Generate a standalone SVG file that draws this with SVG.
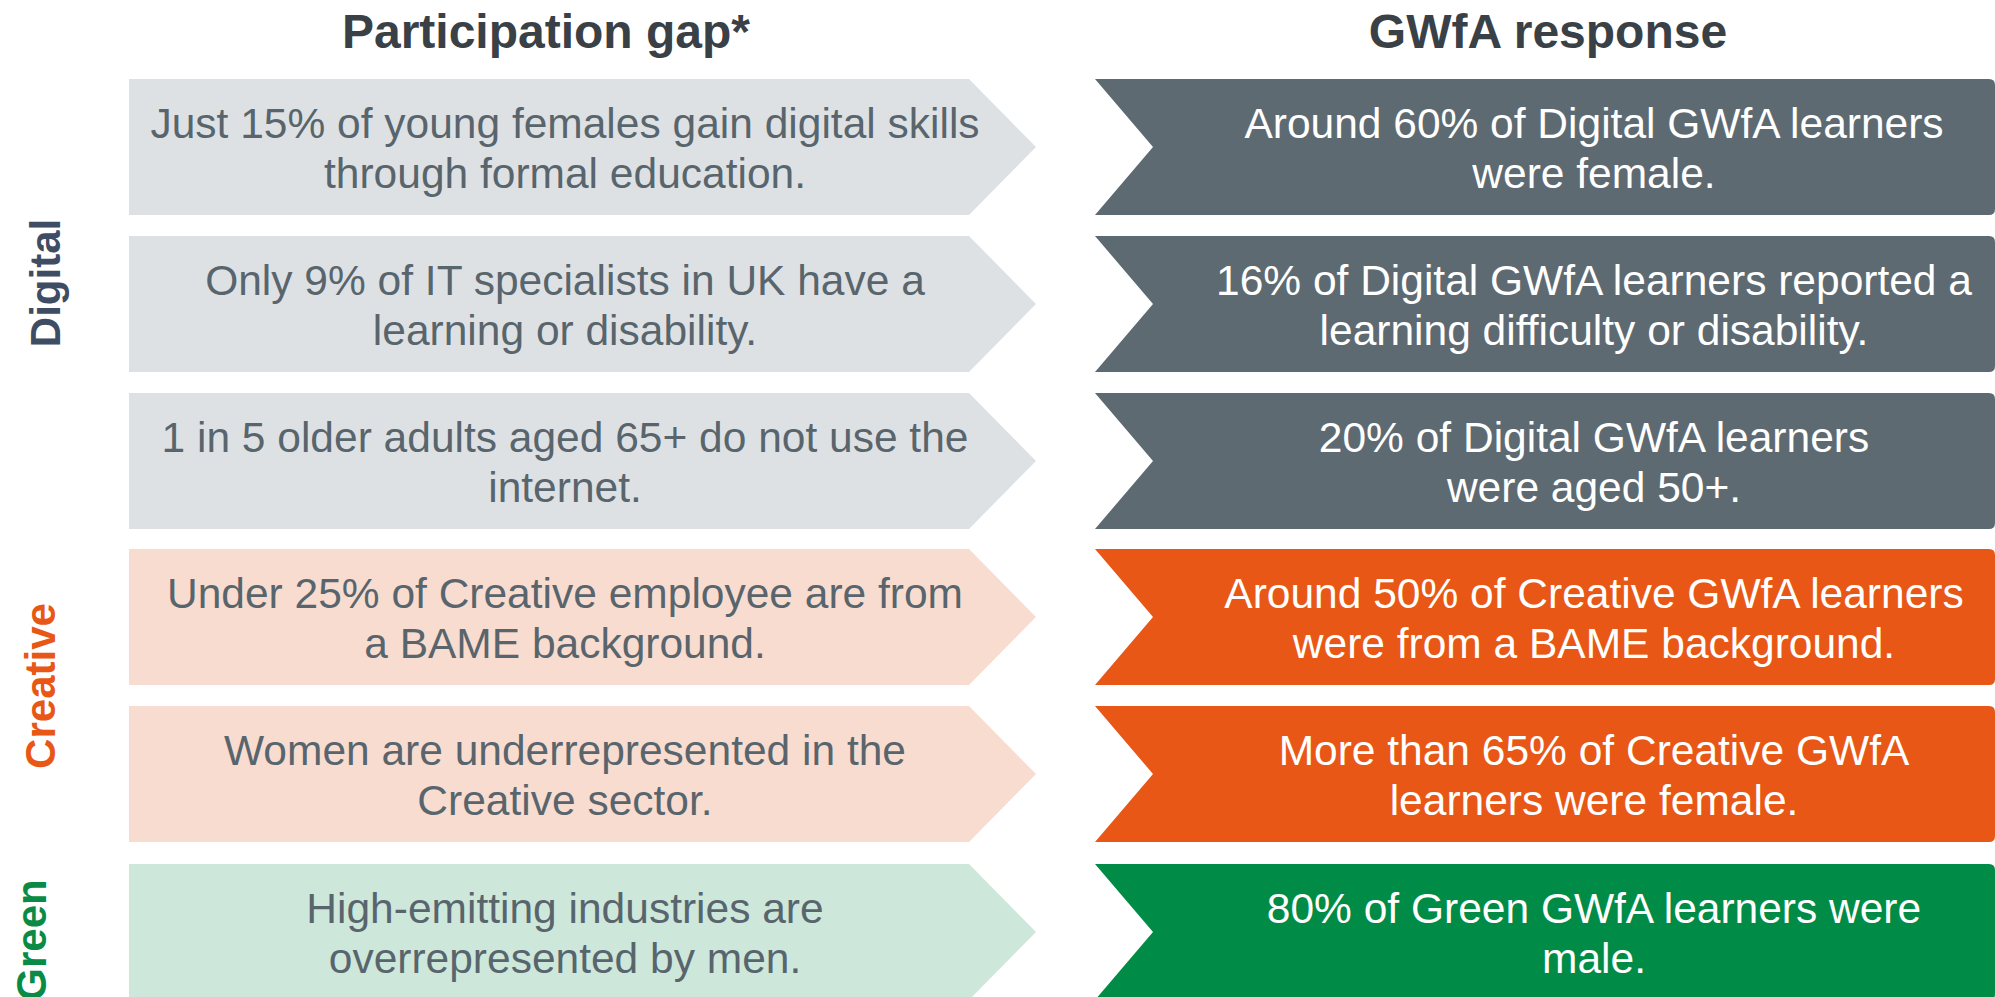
<svg xmlns="http://www.w3.org/2000/svg" width="1995" height="997" viewBox="0 0 1995 997">
<style>
.title{font-family:"Liberation Sans",Arial,sans-serif;font-weight:bold;font-size:48px;fill:#394147;text-anchor:middle}
.lt{font-family:"Liberation Sans",Arial,sans-serif;font-size:42.5px;fill:#59656d;text-anchor:middle}
.rt{font-family:"Liberation Sans",Arial,sans-serif;font-size:42.5px;fill:#ffffff;text-anchor:middle}
.cat{font-family:"Liberation Sans",Arial,sans-serif;font-weight:bold;font-size:42px;text-anchor:middle}
.gd{fill:#dee1e4}.gc{fill:#f9dcd0}.gg{fill:#cde8db}
.rd{fill:#5e6a72}.rc{fill:#e85716}.rg{fill:#008c46}
</style>
<rect width="1995" height="997" fill="#ffffff"/>
<g id="headers">
<text class="title" x="546" y="48">Participation gap*</text>
<text class="title" x="1548" y="48">GWfA response</text>
</g>
<g id="categories">
<text id="cat-digital" class="cat" fill="#3f4d64" transform="translate(60,283) rotate(-90)">Digital</text>
<text id="cat-creative" class="cat" fill="#e85716" transform="translate(55,686) rotate(-90)">Creative</text>
<text id="cat-green" class="cat" fill="#0a8b45" transform="translate(46,940) rotate(-90)">Green</text>
</g>
<g id="connectors"></g>
<!-- Row 1 -->
<g id="gap1">
<polygon class="gd" points="129,79 969,79 1036,147 969,215 129,215"/>
<text class="lt" x="565" y="138">Just 15% of young females gain digital skills</text>
<text class="lt" x="565" y="188">through formal education.</text>
</g>
<g id="resp1">
<path class="rd" d="M1095,79 H1989 Q1995,79 1995,85 V209 Q1995,215 1989,215 H1095 L1153,147 Z"/>
<text class="rt" x="1594" y="138">Around 60% of Digital GWfA learners</text>
<text class="rt" x="1594" y="188">were female.</text>
</g>
<!-- Row 2 -->
<g id="gap2">
<polygon class="gd" points="129,236 969,236 1036,304 969,372 129,372"/>
<text class="lt" x="565" y="295">Only 9% of IT specialists in UK have a</text>
<text class="lt" x="565" y="345">learning or disability.</text>
</g>
<g id="resp2">
<path class="rd" d="M1095,236 H1989 Q1995,236 1995,242 V366 Q1995,372 1989,372 H1095 L1153,304 Z"/>
<text class="rt" x="1594" y="295">16% of Digital GWfA learners reported a</text>
<text class="rt" x="1594" y="345">learning difficulty or disability.</text>
</g>
<!-- Row 3 -->
<g id="gap3">
<polygon class="gd" points="129,393 969,393 1036,461 969,529 129,529"/>
<text class="lt" x="565" y="452">1 in 5 older adults aged 65+ do not use the</text>
<text class="lt" x="565" y="502">internet.</text>
</g>
<g id="resp3">
<path class="rd" d="M1095,393 H1989 Q1995,393 1995,399 V523 Q1995,529 1989,529 H1095 L1153,461 Z"/>
<text class="rt" x="1594" y="452">20% of Digital GWfA learners</text>
<text class="rt" x="1594" y="502">were aged 50+.</text>
</g>
<!-- Row 4 -->
<g id="gap4">
<polygon class="gc" points="129,549 969,549 1036,617 969,685 129,685"/>
<text class="lt" x="565" y="608">Under 25% of Creative employee are from</text>
<text class="lt" x="565" y="658">a BAME background.</text>
</g>
<g id="resp4">
<path class="rc" d="M1095,549 H1989 Q1995,549 1995,555 V679 Q1995,685 1989,685 H1095 L1153,617 Z"/>
<text class="rt" x="1594" y="608">Around 50% of Creative GWfA learners</text>
<text class="rt" x="1594" y="658">were from a BAME background.</text>
</g>
<!-- Row 5 -->
<g id="gap5">
<polygon class="gc" points="129,706 969,706 1036,774 969,842 129,842"/>
<text class="lt" x="565" y="765">Women are underrepresented in the</text>
<text class="lt" x="565" y="815">Creative sector.</text>
</g>
<g id="resp5">
<path class="rc" d="M1095,706 H1989 Q1995,706 1995,712 V836 Q1995,842 1989,842 H1095 L1153,774 Z"/>
<text class="rt" x="1594" y="765">More than 65% of Creative GWfA</text>
<text class="rt" x="1594" y="815">learners were female.</text>
</g>
<!-- Row 6 -->
<g id="gap6">
<polygon class="gg" points="129,864 969,864 1036,932 969,1000 129,1000"/>
<text class="lt" x="565" y="923">High-emitting industries are</text>
<text class="lt" x="565" y="973">overrepresented by men.</text>
</g>
<g id="resp6">
<path class="rg" d="M1095,864 H1989 Q1995,864 1995,870 V994 Q1995,1000 1989,1000 H1095 L1153,932 Z"/>
<text class="rt" x="1594" y="923">80% of Green GWfA learners were</text>
<text class="rt" x="1594" y="973">male.</text>
</g>
</svg>
